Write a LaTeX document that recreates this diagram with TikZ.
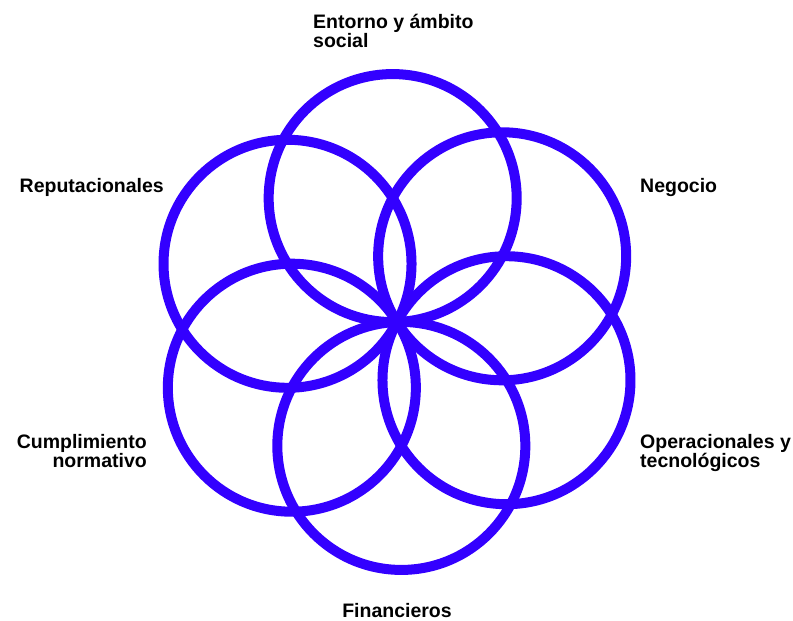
\documentclass[tikz,border=0pt]{standalone}
\usepackage{fontspec}
\setmainfont{Liberation Sans}
\usetikzlibrary{positioning}
\definecolor{petalblue}{HTML}{3300FF}
\tikzset{
	ring/.style={circle, draw=petalblue, line width=10pt, minimum size=248pt, inner sep=0pt},
	tag/.style={font=\fontsize{19.5}{18.5}\selectfont\bfseries, inner sep=0pt},
}

\begin{document}
\begin{tikzpicture} [x=1pt,y=-1pt]
		
		\useasboundingbox (0,0) rectangle (793,621);
		
		% centre of the flower - every ring passes through it
		\coordinate (hub) at (397,322);
		
		% draw the six rings
		\foreach \ang/\ringName in {92/entorno, 32/negocio, 332/operacion, 272/finanzas, 212/cumplimiento, 152/reputacion}
		{
			\node[ring] (\ringName) at ([shift={(\ang:124pt)}]hub) {};
		}
		
		% label the rings (base anchor = last line)
		\node[tag, anchor=base west, align=left] (lblEntorno) at (313,47) {Entorno y ámbito\\social};
		\node[tag, anchor=base east] (lblReputacion) at (164,192) {Reputacionales};
		\node[tag, anchor=base west] (lblNegocio) at (640,192) {Negocio};
		\node[tag, anchor=base east, align=right] (lblCumplimiento) at (147,467) {Cumplimiento\\normativo};
		\node[tag, anchor=base west, align=left] (lblOperacion) at (640,467) {Operacionales y\\tecnológicos};
		\node[tag, anchor=base] (lblFinanzas) at (397,617) {Financieros};
		
	\end{tikzpicture}
\end{document}
